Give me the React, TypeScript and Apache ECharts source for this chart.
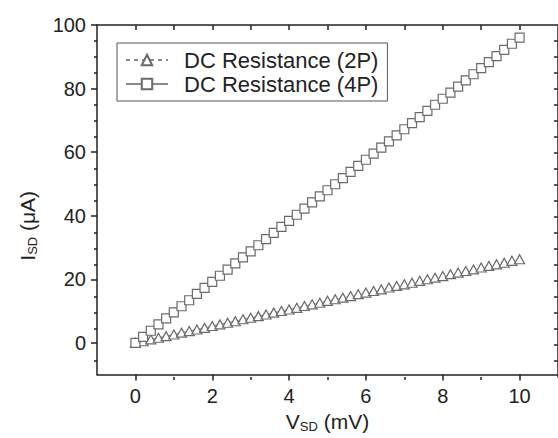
import React, { useEffect, useRef } from "react";
import * as echarts from "echarts";

const voltage = [0, 0.2, 0.4, 0.6, 0.8, 1, 1.2, 1.4, 1.6, 1.8, 2, 2.2, 2.4, 2.6, 2.8, 3, 3.2, 3.4, 3.6, 3.8, 4, 4.2, 4.4, 4.6, 4.8, 5, 5.2, 5.4, 5.6, 5.8, 6, 6.2, 6.4, 6.6, 6.8, 7, 7.2, 7.4, 7.6, 7.8, 8, 8.2, 8.4, 8.6, 8.8, 9, 9.2, 9.4, 9.6, 9.8, 10];
const current2P = [0, 0.5, 1.1, 1.6, 2.1, 2.6, 3.2, 3.7, 4.2, 4.7, 5.3, 5.8, 6.3, 6.8, 7.4, 7.9, 8.4, 8.9, 9.5, 10.0, 10.5, 11.0, 11.6, 12.1, 12.6, 13.2, 13.7, 14.2, 14.7, 15.3, 15.8, 16.3, 16.8, 17.4, 17.9, 18.4, 18.9, 19.5, 20.0, 20.5, 21.0, 21.6, 22.1, 22.6, 23.1, 23.7, 24.2, 24.7, 25.2, 25.8, 26.3];
const current4P = [0, 1.9, 3.8, 5.8, 7.7, 9.6, 11.5, 13.4, 15.4, 17.3, 19.2, 21.1, 23.0, 25.0, 26.9, 28.8, 30.7, 32.6, 34.6, 36.5, 38.4, 40.3, 42.2, 44.2, 46.1, 48.0, 49.9, 51.8, 53.8, 55.7, 57.6, 59.5, 61.4, 63.4, 65.3, 67.2, 69.1, 71.0, 73.0, 74.9, 76.8, 78.7, 80.6, 82.6, 84.5, 86.4, 88.3, 90.2, 92.2, 94.1, 96.0];

const xMajorTicks = [0, 2, 4, 6, 8, 10];
const xMinorTicks = [1, 3, 5, 7, 9];
const xTopTicks = [0, 1, 2, 3, 4, 5, 6, 7, 8, 9, 10];
const yMajorTicks = [0, 20, 40, 60, 80, 100];
const yMinorTicks = [-5, 5, 10, 15, 25, 30, 35, 45, 50, 55, 65, 70, 75, 85, 90, 95];
const yRightTicks = [-5, 0, 5, 10, 15, 20, 25, 30, 35, 40, 45, 50, 55, 60, 65, 70, 75, 80, 85, 90, 95];

const seriesNames = ["DC Resistance (2P)", "DC Resistance (4P)"];

const FONT = "'Liberation Sans', Arial, sans-serif";
const AXIS = "#222";
const MARK = "#6a6a6a";

export default function App() {
  const ref = useRef<HTMLDivElement>(null);
  useEffect(() => {
    if (!ref.current) return;
    const chart = echarts.init(ref.current, null, { renderer: "svg" });
    const rect = { left: 97, top: 25, width: 462, height: 352 };
    const xBase = { type: "value", min: -1, max: 11, splitLine: { show: false } };
    const yBase = { type: "value", min: -10, max: 100, splitLine: { show: false } };
    const line = { show: true, onZero: false, lineStyle: { color: AXIS, width: 1.5 } };
    const noLine = { show: false, onZero: false };
    chart.setOption({
      animation: false,
      grid: [{ ...rect }, { ...rect }, { ...rect }],
      xAxis: [
        {
          ...xBase,
          gridIndex: 0,
          position: "bottom",
          axisLine: line,
          axisTick: { show: true, inside: false, length: 6, customValues: xMajorTicks, lineStyle: { color: AXIS, width: 1.5 } },
          axisLabel: { customValues: xMajorTicks, fontSize: 20, color: AXIS, margin: 11, fontFamily: FONT },
          name: "{a|V}{s|SD}{a| (mV)}",
          nameLocation: "middle",
          nameGap: 32,
          nameTextStyle: {
            fontFamily: FONT,
            color: AXIS,
            rich: {
              a: { fontSize: 21, lineHeight: 24, fontFamily: FONT, color: AXIS },
              s: { fontSize: 13, lineHeight: 12, verticalAlign: "bottom", fontFamily: FONT, color: AXIS },
            },
          },
        },
        {
          ...xBase,
          gridIndex: 1,
          position: "bottom",
          axisLine: noLine,
          axisTick: { show: true, inside: false, length: 3, customValues: xMinorTicks, lineStyle: { color: AXIS, width: 1.5 } },
          axisLabel: { show: false },
        },
        {
          ...xBase,
          gridIndex: 2,
          position: "top",
          axisLine: line,
          axisTick: { show: true, inside: true, length: 5, customValues: xTopTicks, lineStyle: { color: AXIS, width: 1.5 } },
          axisLabel: { show: false },
        },
      ],
      yAxis: [
        {
          ...yBase,
          gridIndex: 0,
          position: "left",
          axisLine: line,
          axisTick: { show: true, inside: false, length: 6, customValues: yMajorTicks, lineStyle: { color: AXIS, width: 1.5 } },
          axisLabel: { customValues: yMajorTicks, fontSize: 20, color: AXIS, margin: 11, fontFamily: FONT },
          name: "{a|I}{s|SD}{a| (μA)}",
          nameLocation: "middle",
          nameRotate: 90,
          nameGap: 58,
          nameTextStyle: {
            fontFamily: FONT,
            color: AXIS,
            padding: [0, 52, 0, 0],
            rich: {
              a: { fontSize: 21, lineHeight: 24, fontFamily: FONT, color: AXIS },
              s: { fontSize: 13, lineHeight: 12, verticalAlign: "bottom", fontFamily: FONT, color: AXIS },
            },
          },
        },
        {
          ...yBase,
          gridIndex: 1,
          position: "left",
          axisLine: noLine,
          axisTick: { show: true, inside: false, length: 3, customValues: yMinorTicks, lineStyle: { color: AXIS, width: 1.5 } },
          axisLabel: { show: false },
        },
        {
          ...yBase,
          gridIndex: 2,
          position: "right",
          axisLine: line,
          axisTick: { show: true, inside: true, length: 4, customValues: yRightTicks, lineStyle: { color: AXIS, width: 1.5 } },
          axisLabel: { show: false },
        },
      ],
      legend: {
        orient: "vertical",
        left: 117,
        top: 43,
        itemWidth: 42,
        itemHeight: 13,
        itemGap: 2,
        padding: [6, 9, 6, 8],
        borderColor: "#555",
        borderWidth: 1,
        textStyle: { fontSize: 22, lineHeight: 22, color: AXIS, fontFamily: FONT, padding: [0, 0, 0, 11] },
        data: seriesNames,
      },
      series: [
        {
          name: seriesNames[0],
          type: "line",
          xAxisIndex: 0,
          yAxisIndex: 0,
          data: voltage.map((v, i) => [v, current2P[i]]),
          symbol: "triangle",
          symbolSize: [10, 9],
          showAllSymbol: true,
          lineStyle: { color: "#8a8a8a", width: 1, type: [4, 4] },
          itemStyle: { color: "#fff", borderColor: MARK, borderWidth: 1.2 },
        },
        {
          name: seriesNames[1],
          type: "line",
          xAxisIndex: 0,
          yAxisIndex: 0,
          data: voltage.map((v, i) => [v, current4P[i]]),
          symbol: "rect",
          symbolSize: 9,
          showAllSymbol: true,
          lineStyle: { color: "#8a8a8a", width: 1 },
          itemStyle: { color: "#fff", borderColor: MARK, borderWidth: 1.2 },
        },
      ],
    });
    return () => chart.dispose();
  }, []);
  return <div ref={ref} style={{ position: "fixed", left: 0, top: 0, width: 558, height: 438, background: "#fff" }} />;
}
